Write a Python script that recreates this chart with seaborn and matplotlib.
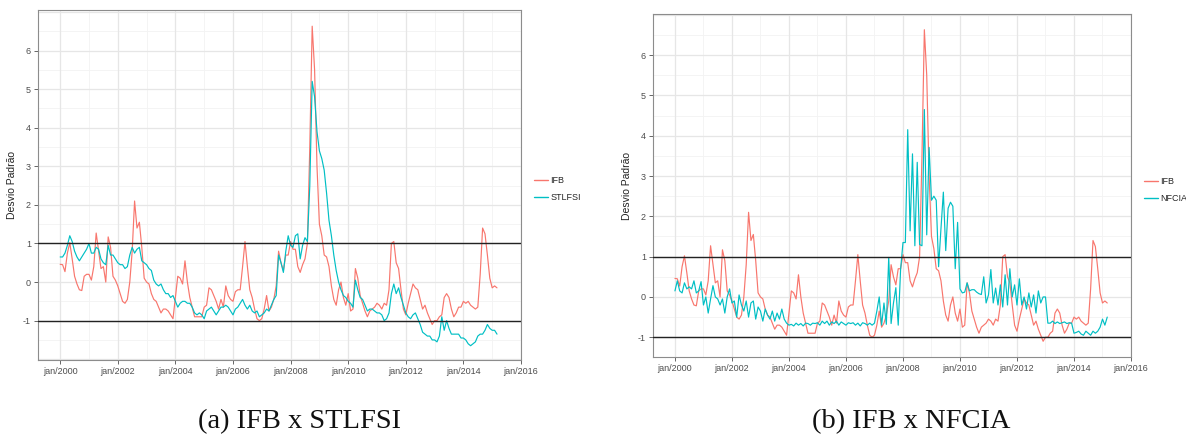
import numpy as np
import pandas as pd
import matplotlib
matplotlib.use("Agg")
import matplotlib.pyplot as plt
import seaborn as sns

# ---- data (monthly, jan/2000 .. mar/2015) ----
ifb = [
    0.46, 0.45, 0.27, 0.75, 1.02, 0.60, 0.15, -0.05, -0.20, -0.22, 0.15, 0.20,   # 2000
    0.20, 0.05, 0.40, 1.27, 0.80, 0.35, 0.40, 0.00, 1.17, 0.90, 0.15, 0.05,      # 2001
    -0.10, -0.30, -0.50, -0.55, -0.45, 0.00, 0.80, 2.10, 1.40, 1.55, 0.90, 0.10, # 2002
    0.00, -0.05, -0.30, -0.45, -0.50, -0.65, -0.80, -0.70, -0.70, -0.75, -0.85, -0.95,  # 2003
    -0.40, 0.15, 0.10, -0.05, 0.55, 0.00, -0.40, -0.65, -0.90, -0.90, -0.90, -0.90,    # 2004
    -0.65, -0.60, -0.15, -0.20, -0.35, -0.50, -0.70, -0.45, -0.65, -0.10, -0.35, -0.45, # 2005
    -0.50, -0.25, -0.20, -0.20, 0.40, 1.05, 0.40, -0.20, -0.40, -0.70, -0.95, -1.00,   # 2006
    -0.95, -0.70, -0.35, -0.75, -0.65, -0.45, -0.10, 0.80, 0.50, 0.30, 0.70, 0.70,     # 2007
    1.05, 0.85, 0.85, 0.40, 0.25, 0.45, 0.60, 1.00, 3.50, 6.63, 5.50, 3.00,          # 2008
    1.50, 1.20, 0.70, 0.65, 0.40, -0.10, -0.45, -0.60, -0.20, 0.00, -0.40, -0.60,     # 2009
    -0.30, -0.75, -0.70, 0.35, 0.10, -0.35, -0.55, -0.75, -0.90, -0.75, -0.70, -0.65, # 2010
    -0.55, -0.60, -0.70, -0.55, -0.60, -0.20, 1.00, 1.05, 0.50, 0.35, -0.20, -0.70,   # 2011
    -0.85, -0.55, -0.30, -0.05, -0.15, -0.20, -0.45, -0.70, -0.60, -0.80, -0.95, -1.10, # 2012
    -1.00, -1.00, -0.90, -0.85, -0.40, -0.30, -0.40, -0.70, -0.90, -0.80, -0.65, -0.65, # 2013
    -0.50, -0.55, -0.50, -0.60, -0.65, -0.70, -0.65, 0.20, 1.40, 1.25, 0.70, 0.10,    # 2014
    -0.15, -0.10, -0.15,                                                             # 2015
]
stlfsi = [
    0.65, 0.65, 0.75, 0.95, 1.20, 1.05, 0.80, 0.65, 0.55, 0.65, 0.75, 0.85,
    1.00, 0.75, 0.75, 0.90, 0.85, 0.60, 0.50, 0.45, 0.95, 0.70, 0.70, 0.60,
    0.50, 0.45, 0.45, 0.35, 0.40, 0.70, 0.90, 0.75, 0.85, 0.90, 0.55, 0.50,
    0.45, 0.35, 0.30, 0.05, -0.05, -0.10, -0.05, -0.20, -0.30, -0.30, -0.40, -0.35,
    -0.50, -0.65, -0.55, -0.50, -0.50, -0.55, -0.55, -0.65, -0.80, -0.85, -0.80, -0.85,
    -0.95, -0.75, -0.70, -0.65, -0.75, -0.85, -0.75, -0.65, -0.65, -0.60, -0.65, -0.75,
    -0.85, -0.70, -0.65, -0.55, -0.45, -0.60, -0.70, -0.60, -0.75, -0.80, -0.75, -0.90,
    -0.85, -0.80, -0.70, -0.75, -0.60, -0.45, -0.35, 0.70, 0.50, 0.25, 0.80, 1.20,
    0.95, 0.90, 1.20, 1.25, 0.60, 0.95, 1.15, 1.05, 2.50, 5.20, 4.80, 3.90,
    3.40, 3.20, 2.90, 2.30, 1.60, 1.20, 0.70, 0.30, 0.00, -0.20, -0.35, -0.40,
    -0.50, -0.55, -0.65, 0.05, -0.20, -0.40, -0.45, -0.60, -0.75, -0.70, -0.70, -0.75,
    -0.80, -0.80, -0.85, -1.00, -0.95, -0.80, -0.30, -0.05, -0.30, -0.15, -0.40, -0.60,
    -0.80, -0.90, -0.95, -0.85, -0.80, -0.95, -1.10, -1.30, -1.35, -1.40, -1.40, -1.50,
    -1.50, -1.55, -1.40, -0.90, -1.25, -1.00, -1.20, -1.35, -1.35, -1.35, -1.35, -1.45,
    -1.45, -1.50, -1.60, -1.65, -1.60, -1.55, -1.40, -1.35, -1.35, -1.25, -1.10, -1.20,
    -1.25, -1.25, -1.35,
]
nfcia = [
    0.15, 0.40, 0.15, 0.10, 0.35, 0.20, 0.25, 0.20, 0.40, 0.10, 0.15, 0.38,
    -0.20, 0.00, -0.40, -0.05, 0.28, 0.00, -0.05, -0.20, -0.05, -0.40, 0.00, 0.20,
    -0.15, -0.10, -0.50, 0.05, -0.20, -0.35, -0.10, -0.50, -0.15, -0.10, -0.55, -0.25,
    -0.35, -0.60, -0.30, -0.45, -0.55, -0.35, -0.60, -0.40, -0.55, -0.30, -0.55, -0.65,
    -0.70, -0.68, -0.72, -0.65, -0.70, -0.66, -0.72, -0.65, -0.66, -0.70, -0.65, -0.66,
    -0.64, -0.70, -0.60, -0.66, -0.60, -0.70, -0.62, -0.66, -0.60, -0.70, -0.62, -0.66,
    -0.70, -0.64, -0.66, -0.64, -0.70, -0.65, -0.72, -0.64, -0.66, -0.70, -0.65, -0.70,
    -0.65, -0.35, 0.00, -0.70, -0.15, -0.68, 0.98, -0.66, -0.15, 0.23, -0.70, 0.68,
    1.35, 1.35, 4.15, 1.64, 3.55, 1.27, 3.34, 1.30, 1.27, 4.65, 1.54, 3.71,
    2.40, 2.50, 2.40, 0.75, 1.70, 2.60, 1.15, 2.20, 2.35, 2.25, 0.70, 1.85,
    0.20, 0.10, 0.12, 0.35, 0.15, 0.18, 0.18, 0.12, 0.08, 0.06, 0.50, -0.15,
    0.05, 0.68, -0.15, 0.22, -0.20, 0.30, -0.25, 0.55, -0.20, 0.70, 0.00, 0.30,
    -0.20, 0.45, -0.20, 0.00, -0.30, 0.10, -0.25, 0.05, -0.40, 0.15, -0.15, 0.00,
    0.00, -0.65, -0.65, -0.60, -0.66, -0.62, -0.66, -0.64, -0.62, -0.66, -0.64, -0.65,
    -0.90, -0.88, -0.85, -0.92, -0.95, -0.85, -0.90, -0.95, -0.85, -0.90, -0.85, -0.75,
    -0.55, -0.70, -0.50,
]

n = len(ifb)
years = 2000 + np.arange(n) / 12.0

xticks = [2000, 2002, 2004, 2006, 2008, 2010, 2012, 2014, 2016]
xticklabels = ["jan/%d" % y for y in xticks]
yticks = [-1, 0, 1, 2, 3, 4, 5, 6]
captions = ["(a) IFB x STLFSI", "(b) IFB x NFCIA"]
ylabel = "Desvio Padrão"

sns.set_style("white")
plt.rcParams["font.family"] = ["Liberation Sans", "DejaVu Sans"]

fig = plt.figure(figsize=(11.86, 4.37), dpi=100)
W, H = 1186, 437

def make_ax(x0, x1, y0, y1):
    return fig.add_axes([x0 / W, 1 - y1 / H, (x1 - x0) / W, (y1 - y0) / H])

ax1 = make_ax(38, 521, 10, 360)
ax2 = make_ax(653, 1131, 14, 357)

pal = {"IFB": "#F8766D", "STLFSI": "#00BFC4", "NFCIA": "#00BFC4"}

panels = [
    (ax1, "STLFSI", stlfsi, (-2.02, 7.05), 0.535),
    (ax2, "NFCIA", nfcia, (-1.49, 7.02), 0.536),
]

for ax, name, vals, ylim, legy in panels:
    df = pd.DataFrame({
        "t": np.concatenate([years, years]),
        "v": np.concatenate([ifb, vals]),
        "serie": ["IFB"] * n + [name] * n,
    })
    # grid
    for xm in range(1999, 2017, 2):
        ax.axvline(xm, color="#F3F3F3", lw=0.6, zorder=0)
    for ym in np.arange(-2.5, 7.5, 1.0):
        ax.axhline(ym, color="#F3F3F3", lw=0.6, zorder=0)
    for xm in xticks:
        ax.axvline(xm, color="#E6E6E6", lw=0.9, zorder=0)
    for ym in range(-2, 8):
        ax.axhline(ym, color="#E6E6E6", lw=0.9, zorder=0)
    sns.lineplot(data=df, x="t", y="v", hue="serie", palette=pal, ax=ax,
                 linewidth=0.85, zorder=3)
    ax.axhline(1, color="#222222", lw=1.0, zorder=4)
    ax.axhline(-1, color="#222222", lw=1.0, zorder=4)
    ax.set_xlim(1999.23, 2016.0)
    ax.set_ylim(*ylim)
    ax.set_xticks(xticks)
    ax.set_xticklabels(xticklabels)
    ax.set_yticks(yticks)
    ax.set_yticklabels([str(v) for v in yticks])
    ax.tick_params(axis="both", labelsize=6.5, colors="#4D4D4D", length=3,
                   width=0.6, direction="out", pad=2, left=True, bottom=True)
    ax.set_xlabel("")
    ax.set_ylabel(ylabel, fontsize=7.5, color="#222222", labelpad=4)
    for s in ax.spines.values():
        s.set_color("#8C8C8C")
        s.set_linewidth(0.8)
    leg = ax.legend(loc="upper left", bbox_to_anchor=(1.02, legy), frameon=False,
                    fontsize=6.5, handlelength=1.5, handletextpad=0.25,
                    borderaxespad=0, labelspacing=0.9, title=None)
    for line in leg.get_lines():
        line.set_linewidth(1.0)

fig.text(300 / W, 1 - 422 / H, captions[0], ha="center", va="center",
         fontsize=20.5, family="Liberation Serif", color="#111111")
fig.text(911 / W, 1 - 422 / H, captions[1], ha="center", va="center",
         fontsize=20.5, family="Liberation Serif", color="#111111")

fig.savefig("out.png", dpi=100)
